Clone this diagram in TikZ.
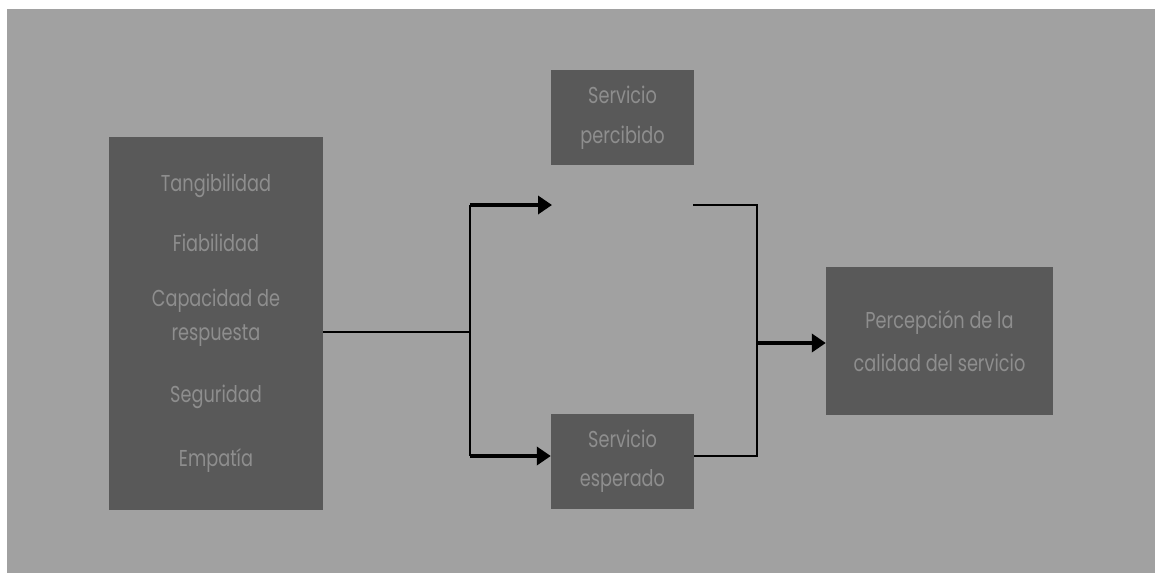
\documentclass[tikz,border=0pt]{standalone}
\usepackage{fontspec}
\setmainfont{Poppins}[FakeStretch=0.77]
\usetikzlibrary{arrows.meta}
\definecolor{bg}{HTML}{A1A1A1}
\definecolor{boxc}{HTML}{595959}
\definecolor{txt}{HTML}{8E8E8E}
\begin{document}
\begin{tikzpicture}[x=1pt,y=-1pt,
  box/.style={fill=boxc, draw=none, text=txt, align=center, inner sep=0pt},
  thinline/.style={line width=2.9pt, draw=black},
  thickarrow/.style={line width=4.6pt, draw=black, -{Triangle[length=14pt,width=18pt]}}]
\useasboundingbox (0,0) rectangle (1155,573);
\fill[white] (0,0) rectangle (1155,573);
\fill[bg] (7,9) rectangle (1155,573);

\node[box, minimum width=214pt, minimum height=373pt, font=\fontsize{23}{34}\selectfont] (dims) at (216,323.5)
  {Tangibilidad\\[26pt]Fiabilidad\\[21pt]Capacidad de\\respuesta\\[28pt]Seguridad\\[30pt]Empatía};
\node[box, minimum width=143pt, minimum height=95pt, font=\fontsize{23}{40}\selectfont] (percibido) at (622.5,117.5)
  {Servicio\\percibido};
\node[box, minimum width=143pt, minimum height=95pt, font=\fontsize{23}{39}\selectfont] (esperado) at (622.5,461.5)
  {Servicio\\esperado};
\node[box, minimum width=227pt, minimum height=148pt, font=\fontsize{23}{43}\selectfont] (percep) at (939.5,341)
  {Percepción de la\\calidad del servicio};

\coordinate (split) at (470,332);
\coordinate (top) at (470,205);
\coordinate (bot) at (470,456);
\coordinate (pin) at (552,205);
\coordinate (pout) at (693,205);
\coordinate (join) at (757,343);

\draw[thinline] (dims.east |- split) -- (split);
\draw[thinline] (top) -- (bot);
\draw[thickarrow] (top) -- (pin);
\draw[thickarrow] (bot) -- (esperado.west |- bot);
\draw[thinline] (esperado.east |- bot) -- (join |- bot) -- (join |- pout) -- (pout);
\draw[thickarrow] (join) -- (percep.west |- join);
\end{tikzpicture}
\end{document}
